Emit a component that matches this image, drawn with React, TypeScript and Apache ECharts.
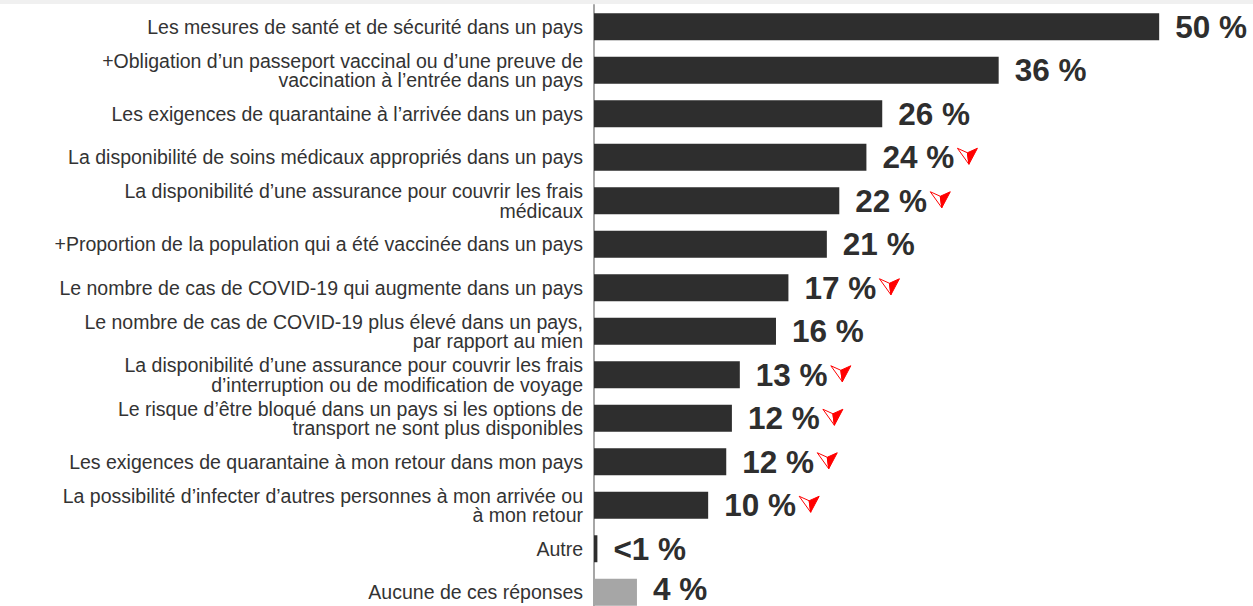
import React, { useEffect, useRef } from "react";
import * as echarts from "echarts";

const categories = [
  "Les mesures de santé et de sécurité dans un pays",
  "+Obligation d’un passeport vaccinal ou d’une preuve de\nvaccination à l’entrée dans un pays",
  "Les exigences de quarantaine à l’arrivée dans un pays",
  "La disponibilité de soins médicaux appropriés dans un pays",
  "La disponibilité d’une assurance pour couvrir les frais\nmédicaux",
  "+Proportion de la population qui a été vaccinée dans un pays",
  "Le nombre de cas de COVID-19 qui augmente dans un pays",
  "Le nombre de cas de COVID-19 plus élevé dans un pays,\npar rapport au mien",
  "La disponibilité d’une assurance pour couvrir les frais\nd’interruption ou de modification de voyage",
  "Le risque d’être bloqué dans un pays si les options de\ntransport ne sont plus disponibles",
  "Les exigences de quarantaine à mon retour dans mon pays",
  "La possibilité d’infecter d’autres personnes à mon arrivée ou\nà mon retour",
  "Autre",
  "Aucune de ces réponses",
];

const values = [50.0, 35.8, 25.5, 24.1, 21.7, 20.6, 17.2, 16.1, 12.9, 12.2, 11.7, 10.1, 0.3, 3.8];
const valueLabels = ["50 %", "36 %", "26 %", "24 %", "22 %", "21 %", "17 %", "16 %", "13 %", "12 %", "12 %", "10 %", "<1 %", "4 %"];
const decreaseFlags = [false, false, false, true, true, false, true, false, true, true, true, true, false, false];

const BAR = "#2e2e2e";
const BAR_OTHER = "#a6a6a6";
const RED = "#ff0000";

export default function App() {
  const ref = useRef<HTMLDivElement>(null);
  useEffect(() => {
    if (!ref.current) return;
    const chart = echarts.init(ref.current, null, { renderer: "svg" });
    const last = values.length - 1;
    const barData = values.map((v, i) => ({
      value: v,
      itemStyle: { color: i === last ? BAR_OTHER : BAR },
      label: { formatter: valueLabels[i], offset: i === last ? [0, -3] : [0, 0] },
    }));
    const arrowData = values
      .map((v, i) => (decreaseFlags[i] ? [v, i] : null))
      .filter((d) => d !== null);
    chart.setOption({
      animation: false,
      backgroundColor: "#ffffff",
      textStyle: { fontFamily: "'Liberation Sans', Arial, sans-serif" },
      graphic: [
        {
          type: "rect",
          left: 0,
          top: 0,
          shape: { width: 1253, height: 4 },
          style: { fill: "#f0f0f0" },
          silent: true,
        },
      ],
      grid: { left: 594, right: 0, top: 5, bottom: 0, containLabel: false },
      xAxis: {
        type: "value",
        min: 0,
        max: 58.3,
        show: false,
        splitLine: { show: false },
      },
      yAxis: {
        type: "category",
        inverse: true,
        data: categories,
        axisLine: { show: true, lineStyle: { color: "#a6a6a6", width: 2 } },
        axisTick: { show: false },
        axisLabel: {
          margin: 11,
          fontSize: 19.5,
          lineHeight: 19.5,
          color: "#333333",
          fontFamily: "'Liberation Sans', Arial, sans-serif",
        },
      },
      series: [
        {
          type: "bar",
          data: barData,
          barCategoryGap: "38%",
          label: {
            show: true,
            position: "right",
            distance: 16,
            fontSize: 31.5,
            fontWeight: "bold",
            color: "#2e2e2e",
            fontFamily: "'Liberation Sans', Arial, sans-serif",
          },
        },
        {
          type: "custom",
          data: arrowData,
          encode: { x: 0, y: 1 },
          z: 5,
          renderItem: (params: any, api: any) => {
            const p = api.coord([api.value(0), api.value(1)]);
            return {
              type: "group",
              x: p[0] + 91,
              y: p[1],
              children: [
                {
                  type: "polygon",
                  shape: { points: [[0, -9], [10, -4.5], [11.5, 7]] },
                  style: { fill: "#ffffff", stroke: RED, lineWidth: 1 },
                },
                {
                  type: "polygon",
                  shape: { points: [[10, -4.5], [20, -9], [11.5, 7]] },
                  style: { fill: RED, stroke: RED, lineWidth: 1 },
                },
              ],
            };
          },
        },
      ],
    });
    return () => chart.dispose();
  }, []);
  return (
    <div style={{ position: "absolute", left: 0, top: 0, width: 1253, height: 606, overflow: "hidden" }}>
      <div ref={ref} style={{ width: 1253, height: 614 }} />
    </div>
  );
}
